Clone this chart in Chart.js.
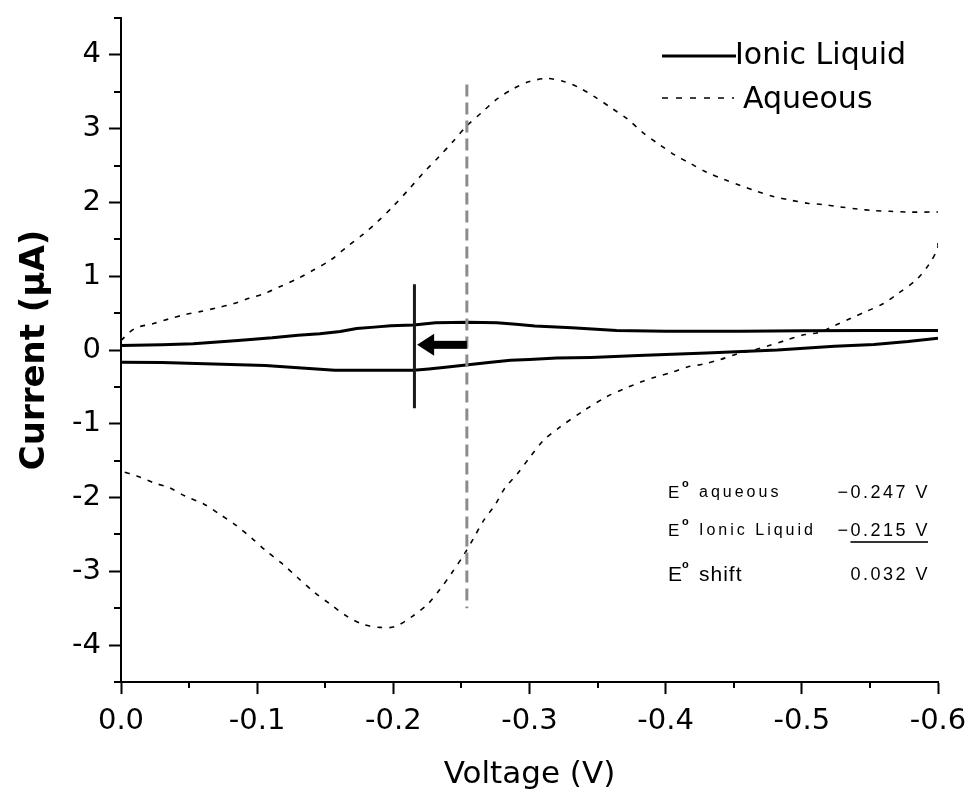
<!DOCTYPE html>
<html>
<head>
<meta charset="utf-8">
<script src="https://cdn.jsdelivr.net/npm/chart.js@4.4.1/dist/chart.umd.min.js"></script>
<style>
html,body{margin:0;padding:0;background:#ffffff;}
#wrap{width:969px;height:794px;position:relative;}
</style>
</head>
<body>
<div id="wrap"><canvas id="c" width="969" height="794"></canvas></div>
<script>
// ---------------- data ----------------
const xTickValues = [0, -0.1, -0.2, -0.3, -0.4, -0.5, -0.6];
const yTickValues = [-4, -3, -2, -1, 0, 1, 2, 3, 4];

// Aqueous CV, forward sweep (0 -> -0.6 V)
const aqueousFwdV = [0, -0.010, -0.024, -0.035, -0.047, -0.058, -0.070, -0.083, -0.094, -0.106, -0.117, -0.130, -0.141, -0.154, -0.166, -0.178, -0.189, -0.200, -0.211, -0.222, -0.233, -0.244, -0.254, -0.265, -0.276, -0.288, -0.300, -0.313, -0.325, -0.336, -0.348, -0.361, -0.372, -0.383, -0.395, -0.407, -0.418, -0.430, -0.443, -0.455, -0.467, -0.479, -0.492, -0.504, -0.516, -0.528, -0.541, -0.553, -0.565, -0.578, -0.600];
const aqueousFwdI = [0.13, 0.29, 0.36, 0.42, 0.48, 0.52, 0.57, 0.63, 0.70, 0.77, 0.86, 0.97, 1.08, 1.22, 1.40, 1.57, 1.75, 1.95, 2.17, 2.40, 2.61, 2.83, 3.04, 3.22, 3.40, 3.54, 3.64, 3.68, 3.64, 3.56, 3.43, 3.27, 3.13, 2.95, 2.79, 2.64, 2.53, 2.41, 2.31, 2.23, 2.15, 2.08, 2.03, 1.99, 1.97, 1.94, 1.91, 1.89, 1.88, 1.87, 1.87];
// Aqueous CV, reverse sweep (-0.6 -> 0 V)
const aqueousRevV = [-0.600, -0.600, -0.593, -0.584, -0.571, -0.560, -0.547, -0.536, -0.524, -0.513, -0.500, -0.488, -0.476, -0.465, -0.453, -0.440, -0.428, -0.416, -0.405, -0.392, -0.381, -0.369, -0.357, -0.340, -0.322, -0.310, -0.300, -0.291, -0.282, -0.275, -0.266, -0.259, -0.252, -0.243, -0.234, -0.225, -0.214, -0.201, -0.190, -0.178, -0.166, -0.154, -0.141, -0.130, -0.118, -0.107, -0.096, -0.084, -0.072, -0.061, -0.047, -0.036, -0.024, -0.012, 0];
const aqueousRevI = [1.45, 1.38, 1.15, 0.95, 0.77, 0.63, 0.52, 0.43, 0.33, 0.24, 0.20, 0.13, 0.06, 0.00, -0.05, -0.13, -0.19, -0.23, -0.30, -0.37, -0.44, -0.53, -0.63, -0.82, -1.05, -1.23, -1.46, -1.68, -1.87, -2.09, -2.32, -2.55, -2.77, -3.02, -3.25, -3.45, -3.61, -3.75, -3.76, -3.72, -3.61, -3.45, -3.27, -3.09, -2.89, -2.73, -2.55, -2.37, -2.22, -2.09, -1.98, -1.87, -1.80, -1.71, -1.64];

// Ionic liquid CV, forward sweep
const ionicFwdV = [0, -0.030, -0.053, -0.086, -0.111, -0.130, -0.146, -0.161, -0.173, -0.186, -0.198, -0.215, -0.231, -0.255, -0.276, -0.290, -0.304, -0.331, -0.364, -0.400, -0.455, -0.500, -0.550, -0.600];
const ionicFwdI = [0.06, 0.07, 0.085, 0.13, 0.165, 0.20, 0.22, 0.25, 0.29, 0.31, 0.33, 0.34, 0.37, 0.375, 0.37, 0.35, 0.325, 0.30, 0.265, 0.255, 0.255, 0.26, 0.265, 0.265];
// Ionic liquid CV, reverse sweep
const ionicRevV = [-0.600, -0.578, -0.553, -0.524, -0.482, -0.430, -0.380, -0.345, -0.320, -0.300, -0.286, -0.270, -0.255, -0.240, -0.226, -0.215, -0.190, -0.157, -0.130, -0.106, -0.068, -0.030, 0];
const ionicRevI = [0.16, 0.115, 0.075, 0.05, 0.00, -0.04, -0.075, -0.10, -0.11, -0.13, -0.14, -0.17, -0.20, -0.23, -0.256, -0.275, -0.275, -0.275, -0.24, -0.21, -0.19, -0.17, -0.166];

// E0 markers
const aqueousMarkerV = [-0.254, -0.254];
const aqueousMarkerI = [3.6, -3.5];
const ionicMarkerV = [-0.2155, -0.2155];
const ionicMarkerI = [0.89, -0.79];
const shiftArrowV = [-0.254, -0.216];
const shiftArrowI = 0.07;

const legendLabels = ['Ionic Liquid', 'Aqueous'];
const infoRows = [
  ['aqueous', '\u22120.247 V'],
  ['Ionic Liquid', '0.215 V'],
  ['shift', '0.032 V']
];

// ---------------- helpers ----------------
function loop(fv, fi, rv, ri) {
  const pts = fv.map((v, k) => ({x: v, y: fi[k]}));
  pts.push({x: rv[0], y: null});
  rv.forEach((v, k) => pts.push({x: v, y: ri[k]}));
  return pts;
}
function seg(vs, is) { return vs.map((v, k) => ({x: v, y: is[k]})); }

const FONT = "'DejaVu Sans', sans-serif";
const SMALL = "'Liberation Sans', Arial, sans-serif";

const extrasPlugin = {
  id: 'extras',
  afterDraw(chart) {
    const ctx = chart.ctx;
    const xs = chart.scales.x, ys = chart.scales.y;
    const ca = chart.chartArea;
    ctx.save();
    // minor ticks
    ctx.strokeStyle = '#000'; ctx.lineWidth = 2;
    for (let k = 1; k < 12; k += 2) {
      const px = Math.round(xs.getPixelForValue(-0.05 * k));
      ctx.beginPath(); ctx.moveTo(px, ca.bottom); ctx.lineTo(px, ca.bottom + 6); ctx.stroke();
    }
    for (let k = -9; k <= 9; k += 2) {
      const py = Math.round(ys.getPixelForValue(0.5 * k));
      ctx.beginPath(); ctx.moveTo(ca.left - 7, py); ctx.lineTo(ca.left, py); ctx.stroke();
    }
    // shift arrow
    const ay = ys.getPixelForValue(shiftArrowI);
    const x0 = xs.getPixelForValue(shiftArrowV[0]);
    const x1 = xs.getPixelForValue(shiftArrowV[1]) + 2;
    ctx.fillStyle = '#000';
    ctx.fillRect(x1 + 14, ay - 4, x0 - x1 - 14, 8);
    ctx.beginPath();
    ctx.moveTo(x1, ay); ctx.lineTo(x1 + 17, ay - 11); ctx.lineTo(x1 + 17, ay + 11); ctx.closePath();
    ctx.fill();

    // legend
    ctx.fillStyle = '#000';
    ctx.strokeStyle = '#000';
    ctx.lineWidth = 3; ctx.setLineDash([]);
    ctx.beginPath(); ctx.moveTo(662, 56); ctx.lineTo(736, 56); ctx.stroke();
    ctx.lineWidth = 1.6; ctx.setLineDash([6, 8]);
    ctx.beginPath(); ctx.moveTo(662, 98); ctx.lineTo(734, 98); ctx.stroke();
    ctx.setLineDash([]);
    ctx.font = "30px " + FONT;
    ctx.textBaseline = 'middle'; ctx.textAlign = 'left';
    ctx.fillText(legendLabels[0], 735, 56);
    ctx.fillText(legendLabels[1], 743, 100);

    // info box
    const rowY = [493, 531, 575];
    for (let r = 0; r < 3; r++) {
      const big = r === 2;
      try { ctx.letterSpacing = big ? '1px' : '3px'; } catch (e) {}
      ctx.textAlign = 'left';
      ctx.font = (big ? '21px ' : '17px ') + SMALL;
      ctx.fillText('E', 668, rowY[r]);
      ctx.font = "bold 11px " + SMALL;
      ctx.fillText('o', 682, rowY[r] - (big ? 10 : 9));
      ctx.font = (big ? '21px ' : '16px ') + SMALL;
      ctx.fillText(infoRows[r][0], 699, rowY[r]);
      try { ctx.letterSpacing = '2.5px'; } catch (e) {}
      ctx.font = "18px " + SMALL;
      ctx.textAlign = 'right';
      ctx.fillText(infoRows[r][1], 930, rowY[r]);
    }
    // underlined value + leading minus for ionic liquid row
    ctx.textAlign = 'right';
    const w = ctx.measureText(infoRows[1][1]).width;
    ctx.fillText('\u2212', 930 - w, rowY[1]);
    ctx.fillStyle = '#333';
    ctx.fillRect(930 - w, rowY[1] + 10, w - 2, 2);
    ctx.restore();
  }
};

new Chart(document.getElementById('c'), {
  type: 'line',
  data: {
    datasets: [
      { label: 'E0 ionic', data: seg(ionicMarkerV, ionicMarkerI), borderColor: '#1a1a1a', borderWidth: 3, pointRadius: 0, order: 0 },
      { label: 'E0 aqueous', data: seg(aqueousMarkerV, aqueousMarkerI), borderColor: '#8c8c8c', borderWidth: 3, borderDash: [12, 6], pointRadius: 0, order: 1 },
      { label: legendLabels[0], data: loop(ionicFwdV, ionicFwdI, ionicRevV, ionicRevI), borderColor: '#000', borderWidth: 3, pointRadius: 0, tension: 0, spanGaps: false, order: 2 },
      { label: legendLabels[1], data: loop(aqueousFwdV, aqueousFwdI, aqueousRevV, aqueousRevI), borderColor: '#000', borderWidth: 1.6, borderDash: [5, 7], pointRadius: 0, tension: 0.3, spanGaps: false, order: 3 }
    ]
  },
  options: {
    responsive: false,
    animation: false,
    devicePixelRatio: 1,
    layout: { padding: { top: 18, right: 31, bottom: 0, left: 0 } },
    plugins: { legend: { display: false }, tooltip: { enabled: false } },
    scales: {
      x: {
        type: 'linear', min: -0.6, max: 0, reverse: true,
        afterBuildTicks: s => { s.ticks = xTickValues.map(v => ({value: v})); },
        afterFit: s => { s.height = 112; s.paddingLeft = 0; s.paddingRight = 0; },
        ticks: { callback: v => (Math.abs(v) < 1e-9 ? 0 : v).toFixed(1), font: { family: FONT, size: 29 }, color: '#000', padding: 10, maxRotation: 0, autoSkip: false },
        grid: { drawOnChartArea: false, tickLength: 12, tickWidth: 2, tickColor: '#000' },
        border: { display: true, width: 2, color: '#000' },
        title: { display: true, text: 'Voltage (V)', font: { family: FONT, size: 31 }, color: '#000', padding: { top: 0, bottom: 0 } }
      },
      y: {
        type: 'linear', min: -4.5, max: 4.5,
        afterBuildTicks: s => { s.ticks = yTickValues.map(v => ({value: v})); },
        afterFit: s => { s.width = 121; s.paddingTop = 0; s.paddingBottom = 0; },
        ticks: { callback: v => String(v), font: { family: FONT, size: 29 }, color: '#000', padding: 8, autoSkip: false },
        grid: { drawOnChartArea: false, tickLength: 12, tickWidth: 2, tickColor: '#000' },
        border: { display: true, width: 2, color: '#000' },
        title: { display: true, text: 'Current (\u00b5A)', font: { family: FONT, size: 34, weight: 'bold' }, color: '#000', padding: { top: 15, bottom: 0 } }
      }
    }
  },
  plugins: [extrasPlugin]
});
</script>
</body>
</html>
